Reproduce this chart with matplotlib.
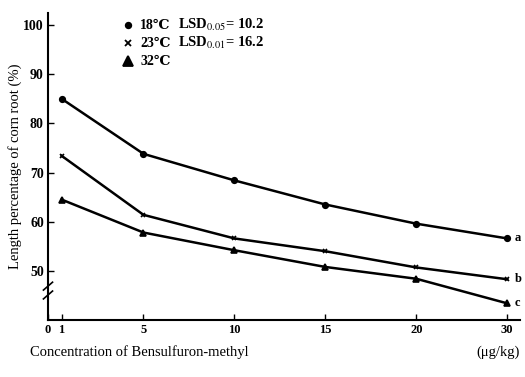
import numpy as np
import matplotlib
matplotlib.use("Agg")
import matplotlib.pyplot as plt

# data
conc = [1, 5, 10, 15, 20, 30]
t18 = [85.0, 73.8, 68.4, 63.5, 59.6, 56.6]
t23 = [73.4, 61.4, 56.6, 54.0, 50.7, 48.3]
t32 = [64.5, 57.8, 54.2, 50.8, 48.4, 43.4]
series_labels = ["18\u2103", "23\u2103", "32\u2103"]
end_letters = ["a", "b", "c"]
lsd_texts = [r"LSD$_{0.05}$= 10.2", r"LSD$_{0.01}$= 16.2"]
xticks = [0, 1, 5, 10, 15, 20, 30]
yticks = [50, 60, 70, 80, 90, 100]

plt.rcParams["font.family"] = ["Liberation Serif", "DejaVu Serif"]
plt.rcParams["mathtext.fontset"] = "stix"


# the original x axis is not linear: 20 -> 30 takes the same room as one step of 5
def xpos(c):
    return np.interp(c, [0, 1, 5, 20, 30], [0, 0.15, 1.05, 4.05, 5.05])


fig = plt.figure(figsize=(5.25, 3.77), dpi=100)
ax = fig.add_axes([0.0914, 0.151, 0.899, 0.814])

markers = ["o", "x", "^"]
sizes = [4, 3.5, 4.5]
for vals, m, s, letter in zip([t18, t23, t32], markers, sizes, end_letters):
    ax.plot(xpos(conc), vals, color="black", lw=1.8, marker=m, ms=s,
            mew=1.2, clip_on=False)
    ax.text(xpos(conc[-1]) + 0.08, vals[-1], letter, fontsize=9,
            fontweight="bold", va="center", ha="left")

ax.set_xlim(0, 5.19)
ax.set_ylim(40.0, 102.4)
ax.set_xticks(xpos(xticks))
ax.set_xticklabels([str(v) for v in xticks], fontsize=9, fontweight="bold")
ax.set_yticks(yticks)
ax.set_yticklabels([str(v) for v in yticks], fontsize=10, fontweight="bold")
ax.tick_params(direction="in", length=4, width=1, pad=3)
ax.spines["top"].set_visible(False)
ax.spines["right"].set_visible(False)
ax.spines["left"].set_linewidth(1.5)
ax.spines["bottom"].set_linewidth(1.5)

# axis break on the y axis
for dy in (-0.9, 0.9):
    ax.plot([-0.05, 0.05], [46.0 + dy - 0.8, 46.0 + dy + 0.8], color="black",
            lw=1.2, clip_on=False)

# legend drawn by hand
rows = [0.961, 0.902, 0.844]
for y, m, s, lab in zip(rows, markers, [4, 4, 7], series_labels):
    ax.plot([0.169], [y], marker=m, color="black", ms=s, mew=1.3,
            transform=ax.transAxes, clip_on=False)
    ax.text(0.195, y, lab, transform=ax.transAxes, fontsize=10,
            fontweight="bold", va="center")
for y, lab in zip(rows[:2], lsd_texts):
    ax.text(0.275, y, lab, transform=ax.transAxes, fontsize=10.5,
            fontweight="bold", va="center")

fig.text(0.028, 0.56, "Length percentage of corn root (%)", rotation=90,
         fontsize=10.5, va="center", ha="center")
fig.text(0.057, 0.065, "Concentration of Bensulfuron-methyl", fontsize=10.5,
         va="center")
fig.text(0.99, 0.065, "(\u03bcg/kg)", fontsize=10.5, va="center", ha="right")

fig.savefig("out.png", dpi=100)
